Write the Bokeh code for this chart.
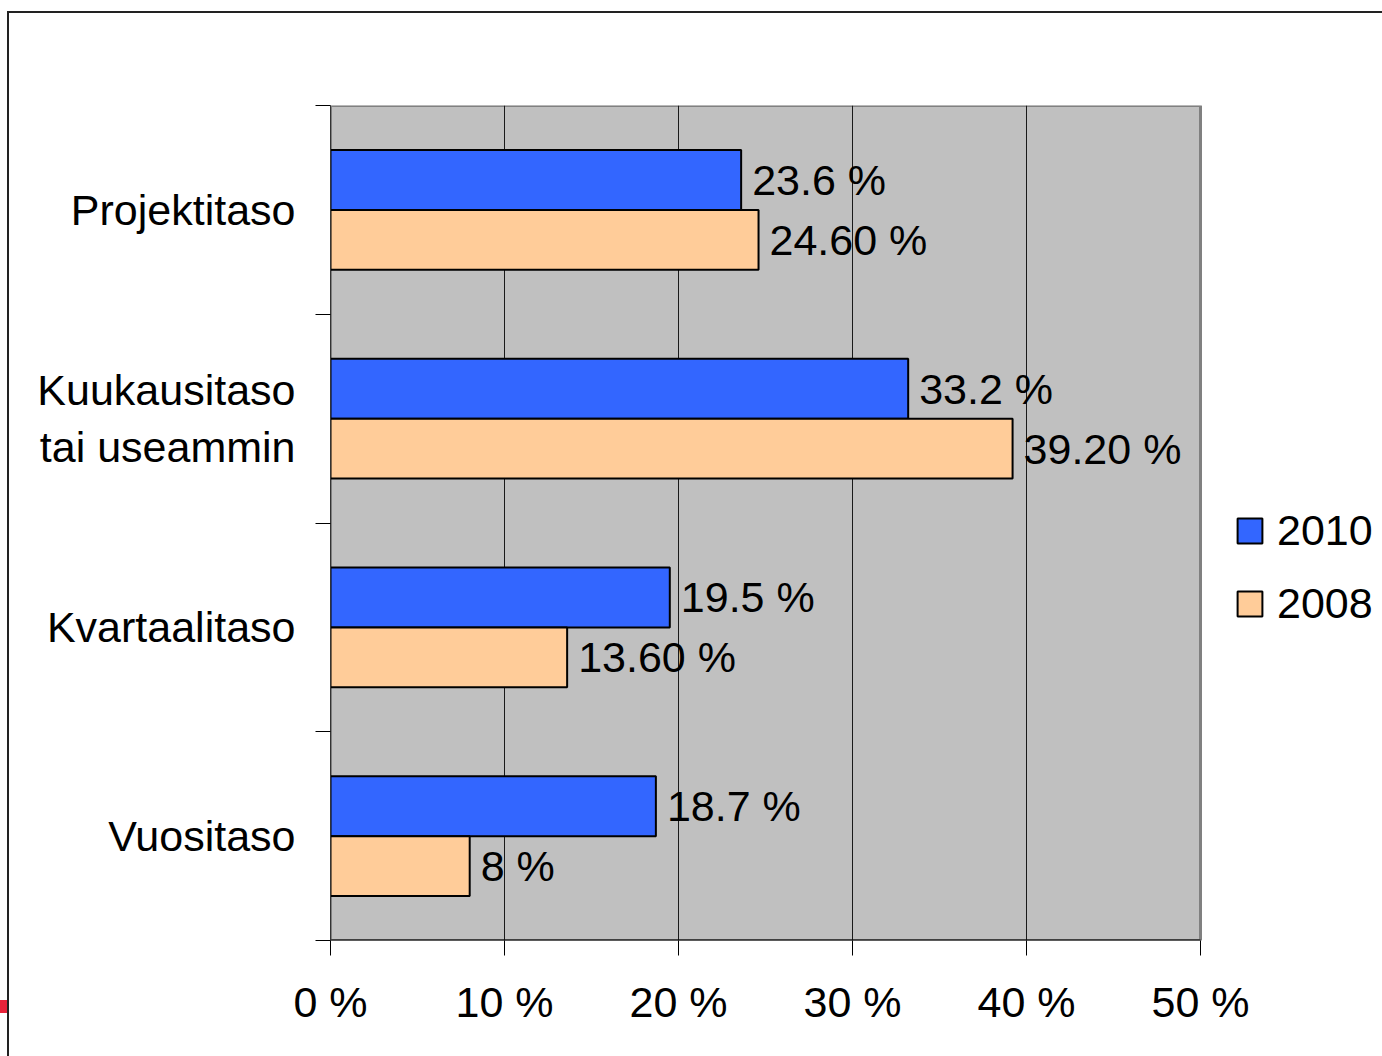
from bokeh.plotting import figure
from bokeh.models import (Range1d, FixedTicker, ColumnDataSource, Legend, LegendItem,
                          InlineStyleSheet)
from bokeh.core.properties import value
from bokeh.embed import file_html
from bokeh.resources import INLINE

categories = ["Projektitaso", "Kuukausitaso\ntai useammin", "Kvartaalitaso", "Vuositaso"]
v2010 = [23.6, 33.2, 19.5, 18.7]
v2008 = [24.6, 39.2, 13.6, 8.0]
labels2010 = ["23.6 %", "33.2 %", "19.5 %", "18.7 %"]
labels2008 = ["24.60 %", "39.20 %", "13.60 %", "8 %"]
x_ticks = [0, 10, 20, 30, 40, 50]
x_tick_labels = ["0 %", "10 %", "20 %", "30 %", "40 %", "50 %"]
series_names = ["2010", "2008"]

FONT = "Liberation Sans"
FS = "43px"
BLUE = "#3366FF"
PEACH = "#FFCC99"

W, H = 1382, 1056
LEFT, RIGHT_PLOT, TOP, BOTTOM = 330, 1200, 105, 940

n = len(categories)
centers = [n - i - 0.5 for i in range(n)]
bh = 0.287
y2010 = [c + bh / 2 for c in centers]
y2008 = [c - bh / 2 for c in centers]

src10 = ColumnDataSource(dict(y=y2010, v=v2010, lab=labels2010))
src08 = ColumnDataSource(dict(y=y2008, v=v2008, lab=labels2008))

# the frame reaches the right edge of the page so the legend can sit in it;
# the grey plot area covers only 0..50 %
x_min, x_max = x_ticks[0], x_ticks[-1]
px_per_unit = (RIGHT_PLOT - LEFT) / (x_max - x_min)
x_end = x_min + (W - LEFT) / px_per_unit

frame_css = InlineStyleSheet(css="""
:host::before { content: ""; position: absolute; left: 7px; top: 11px; width: 1375px;
  height: 2px; background: #222222; z-index: 10; pointer-events: none; }
:host::after { content: ""; position: absolute; left: 0px; top: 11px; width: 9px;
  height: 1045px; z-index: 10; pointer-events: none;
  background: linear-gradient(#222222, #222222) 7px 0px / 2px 100% no-repeat,
              linear-gradient(#E8233A, #E8233A) 0px 989px / 7px 13px no-repeat; }
""")

p = figure(width=W, height=H, output_backend="svg", toolbar_location=None,
           x_range=Range1d(x_min, x_end), y_range=Range1d(0, n),
           min_border_left=LEFT, min_border_right=0, min_border_top=TOP,
           min_border_bottom=H - BOTTOM, stylesheets=[frame_css])
p.background_fill_color = "white"
p.border_fill_color = "white"
p.outline_line_color = None

# grey plot area
p.quad(left=[x_min], right=[x_max], bottom=[0], top=[n], fill_color="#C0C0C0",
       line_color="#808080", line_width=3, level="image")

r10 = p.hbar(y="y", right="v", left=0, height=bh, source=src10, fill_color=BLUE,
             line_color="black", line_width=2)
r08 = p.hbar(y="y", right="v", left=0, height=bh, source=src08, fill_color=PEACH,
             line_color="black", line_width=2)

for s in (src10, src08):
    p.text(x="v", y="y", text="lab", source=s, x_offset=11, text_baseline="middle",
           text_align="left", text_font=value(FONT), text_font_size=FS, text_color="black")

# bottom axis line only across the plot area
p.segment(x0=[x_min], y0=[0], x1=[x_max], y1=[0], line_color="black", line_width=2)

# grid
p.ygrid.grid_line_color = None
p.xgrid.ticker = FixedTicker(ticks=x_ticks[1:-1])
p.xgrid.grid_line_color = "#1a1a1a"
p.xgrid.grid_line_width = 1

# x axis
xa = p.xaxis[0]
xa.ticker = FixedTicker(ticks=x_ticks)
xa.major_label_overrides = {t: l for t, l in zip(x_ticks, x_tick_labels)}
xa.major_tick_out = 15
xa.major_tick_in = 0
xa.minor_tick_out = 0
xa.minor_tick_in = 0
xa.axis_line_color = None
xa.major_tick_line_color = "black"
xa.major_label_text_font = FONT
xa.major_label_text_font_size = FS
xa.major_label_text_color = "black"
xa.major_label_standoff = 22

# y axis
ya = p.yaxis[0]
ya.ticker = FixedTicker(ticks=centers, minor_ticks=list(range(n + 1)))
ya.major_label_overrides = {c: cat for c, cat in zip(centers, categories)}
ya.major_tick_out = 0
ya.major_tick_in = 0
ya.minor_tick_out = 15
ya.minor_tick_in = 0
ya.minor_tick_line_color = "black"
ya.axis_line_color = "#333333"
ya.major_label_text_font = FONT
ya.major_label_text_font_size = FS
ya.major_label_text_color = "black"
ya.major_label_standoff = 20

legend = Legend(items=[LegendItem(label=series_names[0], renderers=[r10]),
                       LegendItem(label=series_names[1], renderers=[r08])],
                location=(904, 312), orientation="vertical",
                label_text_font=FONT, label_text_font_size=FS, label_text_color="black",
                glyph_width=31, glyph_height=31, label_standoff=12, spacing=24,
                padding=0, margin=0, border_line_color=None,
                background_fill_alpha=0)
p.add_layout(legend, "center")

open("out.html", "w").write(file_html(p, INLINE))
